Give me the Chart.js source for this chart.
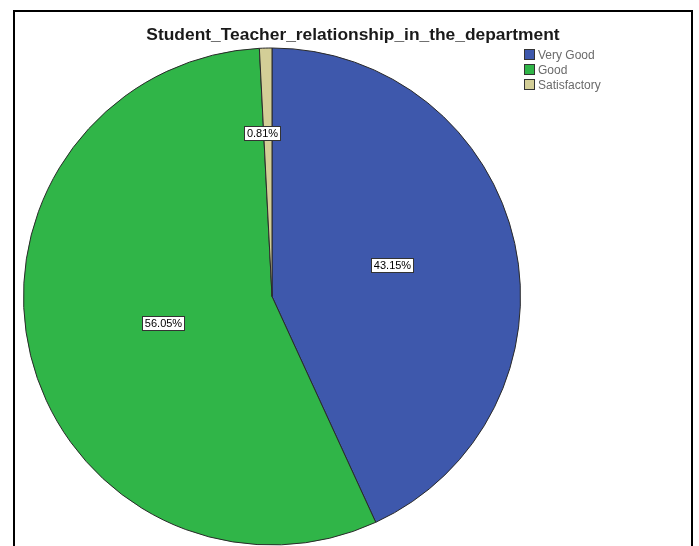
<!DOCTYPE html>
<html>
<head>
<meta charset="utf-8">
<script src="https://cdn.jsdelivr.net/npm/chart.js@4/dist/chart.umd.min.js"></script>
<style>
  html, body { margin: 0; padding: 0; background: #fff; }
  canvas { display: block; }
</style>
</head>
<body>
<canvas id="c" width="699" height="546"></canvas>
<script>
const chartTitle = 'Student_Teacher_relationship_in_the_department';
const categories = ['Very Good', 'Good', 'Satisfactory'];
const percentValues = [43.15, 56.05, 0.81];
const percentLabels = ['43.15%', '56.05%', '0.81%'];

const sliceColors = ['#3E58AC', '#30B548', '#D3CE97'];

const framePlugin = {
  id: 'frame',
  beforeDraw(chart) {
    const ctx = chart.ctx;
    ctx.save();
    ctx.fillStyle = '#fff';
    ctx.fillRect(0, 0, chart.width, chart.height);
    ctx.strokeStyle = '#000';
    ctx.lineWidth = 2;
    ctx.beginPath();
    ctx.moveTo(14, chart.height + 2);
    ctx.lineTo(14, 11);
    ctx.lineTo(692, 11);
    ctx.lineTo(692, chart.height + 2);
    ctx.stroke();
    ctx.restore();
  }
};

const titlePlugin = {
  id: 'customTitle',
  afterDraw(chart, args, opts) {
    const ctx = chart.ctx;
    ctx.save();
    ctx.font = 'bold 17.4px "Liberation Sans", Arial, sans-serif';
    ctx.fillStyle = '#1a1a1a';
    ctx.textAlign = 'center';
    ctx.textBaseline = 'middle';
    ctx.fillText(opts.text, opts.x, opts.y);
    ctx.restore();
  }
};

const sliceLabelPlugin = {
  id: 'sliceLabels',
  afterDatasetsDraw(chart, args, opts) {
    const ctx = chart.ctx;
    const meta = chart.getDatasetMeta(0);
    ctx.save();
    ctx.font = '11px "Liberation Sans", Arial, sans-serif';
    ctx.textAlign = 'center';
    ctx.textBaseline = 'middle';
    meta.data.forEach((arc, i) => {
      const p = arc.getProps(['x', 'y', 'startAngle', 'endAngle', 'outerRadius'], true);
      const mid = (p.startAngle + p.endAngle) / 2;
      const f = opts.radiusFactors[i];
      const cx = p.x + Math.cos(mid) * p.outerRadius * f + opts.dx[i];
      const cy = p.y + Math.sin(mid) * p.outerRadius * f + opts.dy[i];
      const txt = percentLabels[i];
      const w = Math.round(ctx.measureText(txt).width + 5);
      const h = 14;
      const bx = Math.round(cx - w / 2) + 0.5;
      const by = Math.round(cy - h / 2) + 0.5;
      ctx.fillStyle = '#fff';
      ctx.fillRect(bx, by, w, h);
      ctx.strokeStyle = '#333';
      ctx.lineWidth = 1;
      ctx.strokeRect(bx, by, w, h);
      ctx.fillStyle = '#000';
      ctx.fillText(txt, bx + w / 2, by + h / 2 + 0.5);
    });
    ctx.restore();
  }
};

const customLegendPlugin = {
  id: 'customLegend',
  afterDraw(chart, args, opts) {
    const ctx = chart.ctx;
    const ds = chart.data.datasets[0];
    ctx.save();
    ctx.font = '12px "Liberation Sans", Arial, sans-serif';
    ctx.textAlign = 'left';
    ctx.textBaseline = 'middle';
    chart.data.labels.forEach((lab, i) => {
      const y = opts.y + i * opts.step;
      ctx.fillStyle = ds.backgroundColor[i];
      ctx.fillRect(opts.x + 0.5, y - 5.5, 10, 10);
      ctx.strokeStyle = '#333';
      ctx.lineWidth = 1;
      ctx.strokeRect(opts.x + 0.5, y - 5.5, 10, 10);
      ctx.fillStyle = '#6a6a6a';
      ctx.fillText(lab, opts.x + 14, y + 0.5);
    });
    ctx.restore();
  }
};

new Chart(document.getElementById('c'), {
  type: 'pie',
  data: {
    labels: categories,
    datasets: [{
      data: percentValues,
      backgroundColor: sliceColors,
      borderColor: '#2a2a2a',
      borderWidth: 1
    }]
  },
  options: {
    responsive: false,
    animation: false,
    layout: { padding: { left: 23, right: 178, top: 47, bottom: 0 } },
    plugins: {
      legend: { display: false },
      tooltip: { enabled: false },
      title: { display: false },
      customTitle: { text: chartTitle, x: 353, y: 35 },
      sliceLabels: { radiusFactors: [0.5, 0.45, 0.66], dx: [-1, 0, -6], dy: [-5, 0, 0] },
      customLegend: { x: 524, y: 55, step: 15 }
    }
  },
  plugins: [framePlugin, sliceLabelPlugin, customLegendPlugin, titlePlugin]
});
</script>
</body>
</html>
